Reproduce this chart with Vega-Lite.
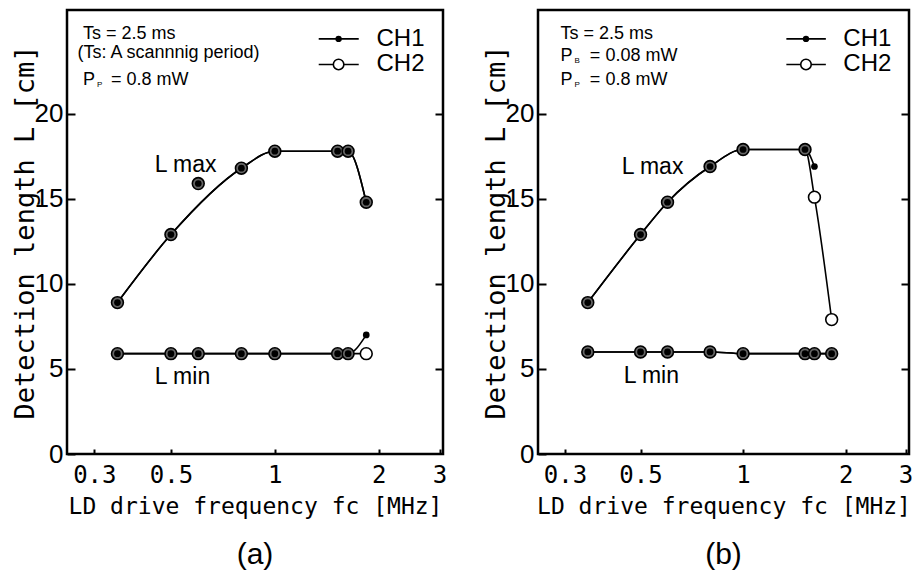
{
  "$schema": "https://vega.github.io/schema/vega-lite/v6.json",
  "padding": {"left": 9, "top": 8, "right": 0, "bottom": 0},
  "background": "white",
  "config": {
    "view": {"stroke": "black", "strokeWidth": 2.5},
    "axis": {"grid": false, "domain": false, "tickColor": "black", "labelColor": "black", "titleColor": "black", "tickWidth": 2, "zindex": 1}
  },
  "datasets": {
    "pts": [
      {"panel": "a", "grp": "max", "ch": "CH1", "f": 0.35, "L": 8.9, "fit": 1},
      {"panel": "a", "grp": "max", "ch": "CH1", "f": 0.5, "L": 12.9, "fit": 1},
      {"panel": "a", "grp": "max", "ch": "CH1", "f": 0.6, "L": 15.9, "fit": 0},
      {"panel": "a", "grp": "max", "ch": "CH1", "f": 0.8, "L": 16.8, "fit": 1},
      {"panel": "a", "grp": "max", "ch": "CH1", "f": 1.0, "L": 17.8, "fit": 1},
      {"panel": "a", "grp": "max", "ch": "CH1", "f": 1.52, "L": 17.8, "fit": 1},
      {"panel": "a", "grp": "max", "ch": "CH1", "f": 1.63, "L": 17.8, "fit": 1},
      {"panel": "a", "grp": "max", "ch": "CH1", "f": 1.84, "L": 14.8, "fit": 1},
      {"panel": "a", "grp": "max", "ch": "CH2", "f": 0.35, "L": 8.9, "fit": 1},
      {"panel": "a", "grp": "max", "ch": "CH2", "f": 0.5, "L": 12.9, "fit": 1},
      {"panel": "a", "grp": "max", "ch": "CH2", "f": 0.6, "L": 15.9, "fit": 0},
      {"panel": "a", "grp": "max", "ch": "CH2", "f": 0.8, "L": 16.8, "fit": 1},
      {"panel": "a", "grp": "max", "ch": "CH2", "f": 1.0, "L": 17.8, "fit": 1},
      {"panel": "a", "grp": "max", "ch": "CH2", "f": 1.52, "L": 17.8, "fit": 1},
      {"panel": "a", "grp": "max", "ch": "CH2", "f": 1.63, "L": 17.8, "fit": 1},
      {"panel": "a", "grp": "max", "ch": "CH2", "f": 1.84, "L": 14.8, "fit": 1},
      {"panel": "a", "grp": "min", "ch": "CH1", "f": 0.35, "L": 5.9, "fit": 1},
      {"panel": "a", "grp": "min", "ch": "CH1", "f": 0.5, "L": 5.9, "fit": 1},
      {"panel": "a", "grp": "min", "ch": "CH1", "f": 0.6, "L": 5.9, "fit": 1},
      {"panel": "a", "grp": "min", "ch": "CH1", "f": 0.8, "L": 5.9, "fit": 1},
      {"panel": "a", "grp": "min", "ch": "CH1", "f": 1.0, "L": 5.9, "fit": 1},
      {"panel": "a", "grp": "min", "ch": "CH1", "f": 1.52, "L": 5.9, "fit": 1},
      {"panel": "a", "grp": "min", "ch": "CH1", "f": 1.63, "L": 5.9, "fit": 1},
      {"panel": "a", "grp": "min", "ch": "CH1", "f": 1.84, "L": 7.0, "fit": 1},
      {"panel": "a", "grp": "min", "ch": "CH2", "f": 0.35, "L": 5.9, "fit": 1},
      {"panel": "a", "grp": "min", "ch": "CH2", "f": 0.5, "L": 5.9, "fit": 1},
      {"panel": "a", "grp": "min", "ch": "CH2", "f": 0.6, "L": 5.9, "fit": 1},
      {"panel": "a", "grp": "min", "ch": "CH2", "f": 0.8, "L": 5.9, "fit": 1},
      {"panel": "a", "grp": "min", "ch": "CH2", "f": 1.0, "L": 5.9, "fit": 1},
      {"panel": "a", "grp": "min", "ch": "CH2", "f": 1.52, "L": 5.9, "fit": 1},
      {"panel": "a", "grp": "min", "ch": "CH2", "f": 1.63, "L": 5.9, "fit": 1},
      {"panel": "a", "grp": "min", "ch": "CH2", "f": 1.84, "L": 5.9, "fit": 1},
      {"panel": "b", "grp": "max", "ch": "CH1", "f": 0.35, "L": 8.9, "fit": 1},
      {"panel": "b", "grp": "max", "ch": "CH1", "f": 0.5, "L": 12.9, "fit": 1},
      {"panel": "b", "grp": "max", "ch": "CH1", "f": 0.6, "L": 14.8, "fit": 1},
      {"panel": "b", "grp": "max", "ch": "CH1", "f": 0.8, "L": 16.9, "fit": 1},
      {"panel": "b", "grp": "max", "ch": "CH1", "f": 1.0, "L": 17.9, "fit": 1},
      {"panel": "b", "grp": "max", "ch": "CH1", "f": 1.52, "L": 17.9, "fit": 1},
      {"panel": "b", "grp": "max", "ch": "CH1", "f": 1.62, "L": 16.9, "fit": 1},
      {"panel": "b", "grp": "max", "ch": "CH2", "f": 0.35, "L": 8.9, "fit": 1},
      {"panel": "b", "grp": "max", "ch": "CH2", "f": 0.5, "L": 12.9, "fit": 1},
      {"panel": "b", "grp": "max", "ch": "CH2", "f": 0.6, "L": 14.8, "fit": 1},
      {"panel": "b", "grp": "max", "ch": "CH2", "f": 0.8, "L": 16.9, "fit": 1},
      {"panel": "b", "grp": "max", "ch": "CH2", "f": 1.0, "L": 17.9, "fit": 1},
      {"panel": "b", "grp": "max", "ch": "CH2", "f": 1.52, "L": 17.9, "fit": 1},
      {"panel": "b", "grp": "max", "ch": "CH2", "f": 1.62, "L": 15.1, "fit": 1},
      {"panel": "b", "grp": "max", "ch": "CH2", "f": 1.82, "L": 7.9, "fit": 1},
      {"panel": "b", "grp": "min", "ch": "CH1", "f": 0.35, "L": 6.0, "fit": 1},
      {"panel": "b", "grp": "min", "ch": "CH1", "f": 0.5, "L": 6.0, "fit": 1},
      {"panel": "b", "grp": "min", "ch": "CH1", "f": 0.6, "L": 6.0, "fit": 1},
      {"panel": "b", "grp": "min", "ch": "CH1", "f": 0.8, "L": 6.0, "fit": 1},
      {"panel": "b", "grp": "min", "ch": "CH1", "f": 1.0, "L": 5.9, "fit": 1},
      {"panel": "b", "grp": "min", "ch": "CH1", "f": 1.52, "L": 5.9, "fit": 1},
      {"panel": "b", "grp": "min", "ch": "CH1", "f": 1.62, "L": 5.9, "fit": 1},
      {"panel": "b", "grp": "min", "ch": "CH1", "f": 1.82, "L": 5.9, "fit": 1},
      {"panel": "b", "grp": "min", "ch": "CH2", "f": 0.35, "L": 6.0, "fit": 1},
      {"panel": "b", "grp": "min", "ch": "CH2", "f": 0.5, "L": 6.0, "fit": 1},
      {"panel": "b", "grp": "min", "ch": "CH2", "f": 0.6, "L": 6.0, "fit": 1},
      {"panel": "b", "grp": "min", "ch": "CH2", "f": 0.8, "L": 6.0, "fit": 1},
      {"panel": "b", "grp": "min", "ch": "CH2", "f": 1.0, "L": 5.9, "fit": 1},
      {"panel": "b", "grp": "min", "ch": "CH2", "f": 1.52, "L": 5.9, "fit": 1},
      {"panel": "b", "grp": "min", "ch": "CH2", "f": 1.62, "L": 5.9, "fit": 1},
      {"panel": "b", "grp": "min", "ch": "CH2", "f": 1.82, "L": 5.9, "fit": 1}
    ],
    "leg": [
      {"ch": "CH1", "f": 1.34, "f2": 1.75, "L": 24.4},
      {"ch": "CH2", "f": 1.34, "f2": 1.75, "L": 22.9}
    ],
    "legpt": [
      {"ch": "CH1", "f": 1.53, "L": 24.4},
      {"ch": "CH2", "f": 1.53, "L": 22.9}
    ],
    "notes": [
      {"panel": "a", "kind": "note", "f": 0.278, "L": 24.7, "t": "Ts = 2.5 ms"},
      {"panel": "a", "kind": "note", "f": 0.268, "L": 23.6, "t": "(Ts: A scannnig period)"},
      {"panel": "a", "kind": "note", "f": 0.278, "L": 22.0, "t": "P"},
      {"panel": "a", "kind": "note", "f": 0.335, "L": 22.0, "t": "= 0.8 mW"},
      {"panel": "a", "kind": "sub", "f": 0.278, "L": 22.0, "t": "P"},
      {"panel": "a", "kind": "label", "f": 0.449, "L": 17.0, "t": "L max"},
      {"panel": "a", "kind": "label", "f": 0.449, "L": 4.5, "t": "L min"},
      {"panel": "a", "kind": "legend", "f": 1.97, "L": 24.4, "t": "CH1"},
      {"panel": "a", "kind": "legend", "f": 1.97, "L": 22.9, "t": "CH2"},
      {"panel": "b", "kind": "note", "f": 0.291, "L": 24.7, "t": "Ts = 2.5 ms"},
      {"panel": "b", "kind": "note", "f": 0.291, "L": 23.4, "t": "P"},
      {"panel": "b", "kind": "note", "f": 0.355, "L": 23.4, "t": "= 0.08 mW"},
      {"panel": "b", "kind": "note", "f": 0.291, "L": 22.0, "t": "P"},
      {"panel": "b", "kind": "note", "f": 0.355, "L": 22.0, "t": "= 0.8 mW"},
      {"panel": "b", "kind": "sub", "f": 0.291, "L": 23.4, "t": "B"},
      {"panel": "b", "kind": "sub", "f": 0.291, "L": 22.0, "t": "P"},
      {"panel": "b", "kind": "label", "f": 0.44, "L": 16.9, "t": "L max"},
      {"panel": "b", "kind": "label", "f": 0.446, "L": 4.6, "t": "L min"},
      {"panel": "b", "kind": "legend", "f": 1.97, "L": 24.4, "t": "CH1"},
      {"panel": "b", "kind": "legend", "f": 1.97, "L": 22.9, "t": "CH2"}
    ]
  },
  "spacing": 31,
  "hconcat": [
    {
      "width": 376,
      "height": 444,
      "title": {"text": "(a)", "orient": "bottom", "fontSize": 30, "fontWeight": "normal", "font": "Liberation Sans", "color": "black", "offset": 22},
      "encoding": {
        "x": {"field": "f", "type": "quantitative", "scale": {"type": "log", "domain": [0.25, 3.07], "nice": false},
          "axis": {"values": [0.3, 0.5, 1, 2, 3], "labelExpr": "datum.value < 1 ? format(datum.value, '.1f') : format(datum.value, 'd')", "offset": -5, "tickSize": 5, "labelPadding": 9, "labelFont": "DejaVu Sans Mono", "labelFontSize": 24, "title": "LD drive frequency fc [MHz]", "titleFont": "DejaVu Sans Mono", "titleFontSize": 23, "titleFontWeight": "normal", "titlePadding": 8}},
        "y": {"field": "L", "type": "quantitative", "scale": {"domain": [0, 26.1], "nice": false, "zero": false}, "axis": null}
      },
      "resolve": {"axis": {"y": "independent"}},
      "layer": [
        {
          "data": {"name": "pts"},
          "transform": [{"filter": "datum.panel === 'a' && datum.fit === 1"}],
          "mark": {"type": "line", "interpolate": "monotone", "color": "black", "strokeWidth": 1.6},
          "encoding": {
            "detail": [{"field": "ch"}, {"field": "grp"}],
            "y": {"field": "L", "type": "quantitative", "scale": {"domain": [0, 26.1], "nice": false, "zero": false},
              "axis": {"orient": "left", "values": [0, 5, 10, 15, 20], "offset": -8, "tickSize": 8, "labelPadding": 4, "labelFont": "Liberation Sans", "labelFontSize": 26, "title": "Detection length  L [cm]", "titleFont": "DejaVu Sans Mono", "titleFontSize": 27, "titleFontWeight": "normal", "titlePadding": -5}}
          }
        },
        {
          "data": {"name": "pts"},
          "transform": [{"filter": "datum.panel === 'a'"}, {"joinaggregate": [{"op": "count", "as": "n"}], "groupby": ["grp", "f", "L"]}, {"filter": "datum.ch === 'CH2'"}],
          "mark": {"type": "point", "shape": "circle", "size": 140, "stroke": "black", "strokeWidth": 1.6, "filled": false, "opacity": 1},
          "encoding": {
            "fill": {"field": "n", "type": "ordinal", "scale": {"domain": [1, 2], "range": ["white", "#666666"]}, "legend": null},
            "y": {"field": "L", "type": "quantitative", "scale": {"domain": [0, 26.1], "nice": false, "zero": false},
              "axis": {"orient": "right", "values": [5, 10, 15, 20], "tickSize": -8, "labels": false, "title": null}}
          }
        },
        {
          "data": {"name": "pts"},
          "transform": [{"filter": "datum.panel === 'a' && datum.ch === 'CH1'"}],
          "mark": {"type": "point", "shape": "circle", "size": 45, "filled": true, "color": "black", "opacity": 1}
        },
        {
          "data": {"name": "leg"},
          "mark": {"type": "rule", "color": "black", "strokeWidth": 1.6},
          "encoding": {"x2": {"field": "f2"}}
        },
        {
          "data": {"name": "legpt"},
          "transform": [{"filter": "datum.ch === 'CH2'"}],
          "mark": {"type": "point", "shape": "circle", "size": 110, "stroke": "black", "strokeWidth": 1.6, "fill": "white", "filled": false, "opacity": 1}
        },
        {
          "data": {"name": "legpt"},
          "transform": [{"filter": "datum.ch === 'CH1'"}],
          "mark": {"type": "point", "shape": "circle", "size": 40, "filled": true, "color": "black", "opacity": 1}
        },
        {
          "data": {"name": "notes"},
          "transform": [{"filter": "datum.panel === 'a' && datum.kind === 'note'"}],
          "mark": {"type": "text", "align": "left", "baseline": "middle", "font": "Liberation Sans", "fontSize": 18, "color": "black"},
          "encoding": {"text": {"field": "t"}}
        },
        {
          "data": {"name": "notes"},
          "transform": [{"filter": "datum.panel === 'a' && datum.kind === 'sub'"}],
          "mark": {"type": "text", "align": "left", "baseline": "middle", "font": "Liberation Sans", "fontSize": 8, "dx": 14, "dy": 5, "color": "black"},
          "encoding": {"text": {"field": "t"}}
        },
        {
          "data": {"name": "notes"},
          "transform": [{"filter": "datum.panel === 'a' && datum.kind === 'label'"}],
          "mark": {"type": "text", "align": "left", "baseline": "middle", "font": "Liberation Sans", "fontSize": 23, "color": "black"},
          "encoding": {"text": {"field": "t"}}
        },
        {
          "data": {"name": "notes"},
          "transform": [{"filter": "datum.panel === 'a' && datum.kind === 'legend'"}],
          "mark": {"type": "text", "align": "left", "baseline": "middle", "font": "Liberation Sans", "fontSize": 24, "color": "black"},
          "encoding": {"text": {"field": "t"}}
        }
      ]
    },
    {
      "width": 371,
      "height": 444,
      "title": {"text": "(b)", "orient": "bottom", "fontSize": 30, "fontWeight": "normal", "font": "Liberation Sans", "color": "black", "offset": 22},
      "encoding": {
        "x": {"field": "f", "type": "quantitative", "scale": {"type": "log", "domain": [0.25, 3.07], "nice": false},
          "axis": {"values": [0.3, 0.5, 1, 2, 3], "labelExpr": "datum.value < 1 ? format(datum.value, '.1f') : format(datum.value, 'd')", "offset": -5, "tickSize": 5, "labelPadding": 9, "labelFont": "DejaVu Sans Mono", "labelFontSize": 24, "title": "LD drive frequency fc [MHz]", "titleFont": "DejaVu Sans Mono", "titleFontSize": 23, "titleFontWeight": "normal", "titlePadding": 8}},
        "y": {"field": "L", "type": "quantitative", "scale": {"domain": [0, 26.1], "nice": false, "zero": false}, "axis": null}
      },
      "resolve": {"axis": {"y": "independent"}},
      "layer": [
        {
          "data": {"name": "pts"},
          "transform": [{"filter": "datum.panel === 'b' && datum.fit === 1"}],
          "mark": {"type": "line", "interpolate": "monotone", "color": "black", "strokeWidth": 1.6},
          "encoding": {
            "detail": [{"field": "ch"}, {"field": "grp"}],
            "y": {"field": "L", "type": "quantitative", "scale": {"domain": [0, 26.1], "nice": false, "zero": false},
              "axis": {"orient": "left", "values": [0, 5, 10, 15, 20], "offset": -8, "tickSize": 8, "labelPadding": 4, "labelFont": "Liberation Sans", "labelFontSize": 26, "title": "Detection length  L [cm]", "titleFont": "DejaVu Sans Mono", "titleFontSize": 27, "titleFontWeight": "normal", "titlePadding": -5}}
          }
        },
        {
          "data": {"name": "pts"},
          "transform": [{"filter": "datum.panel === 'b'"}, {"joinaggregate": [{"op": "count", "as": "n"}], "groupby": ["grp", "f", "L"]}, {"filter": "datum.ch === 'CH2'"}],
          "mark": {"type": "point", "shape": "circle", "size": 140, "stroke": "black", "strokeWidth": 1.6, "filled": false, "opacity": 1},
          "encoding": {
            "fill": {"field": "n", "type": "ordinal", "scale": {"domain": [1, 2], "range": ["white", "#666666"]}, "legend": null},
            "y": {"field": "L", "type": "quantitative", "scale": {"domain": [0, 26.1], "nice": false, "zero": false},
              "axis": {"orient": "right", "values": [5, 10, 15, 20], "tickSize": -8, "labels": false, "title": null}}
          }
        },
        {
          "data": {"name": "pts"},
          "transform": [{"filter": "datum.panel === 'b' && datum.ch === 'CH1'"}],
          "mark": {"type": "point", "shape": "circle", "size": 45, "filled": true, "color": "black", "opacity": 1}
        },
        {
          "data": {"name": "leg"},
          "mark": {"type": "rule", "color": "black", "strokeWidth": 1.6},
          "encoding": {"x2": {"field": "f2"}}
        },
        {
          "data": {"name": "legpt"},
          "transform": [{"filter": "datum.ch === 'CH2'"}],
          "mark": {"type": "point", "shape": "circle", "size": 110, "stroke": "black", "strokeWidth": 1.6, "fill": "white", "filled": false, "opacity": 1}
        },
        {
          "data": {"name": "legpt"},
          "transform": [{"filter": "datum.ch === 'CH1'"}],
          "mark": {"type": "point", "shape": "circle", "size": 40, "filled": true, "color": "black", "opacity": 1}
        },
        {
          "data": {"name": "notes"},
          "transform": [{"filter": "datum.panel === 'b' && datum.kind === 'note'"}],
          "mark": {"type": "text", "align": "left", "baseline": "middle", "font": "Liberation Sans", "fontSize": 18, "color": "black"},
          "encoding": {"text": {"field": "t"}}
        },
        {
          "data": {"name": "notes"},
          "transform": [{"filter": "datum.panel === 'b' && datum.kind === 'sub'"}],
          "mark": {"type": "text", "align": "left", "baseline": "middle", "font": "Liberation Sans", "fontSize": 8, "dx": 14, "dy": 5, "color": "black"},
          "encoding": {"text": {"field": "t"}}
        },
        {
          "data": {"name": "notes"},
          "transform": [{"filter": "datum.panel === 'b' && datum.kind === 'label'"}],
          "mark": {"type": "text", "align": "left", "baseline": "middle", "font": "Liberation Sans", "fontSize": 23, "color": "black"},
          "encoding": {"text": {"field": "t"}}
        },
        {
          "data": {"name": "notes"},
          "transform": [{"filter": "datum.panel === 'b' && datum.kind === 'legend'"}],
          "mark": {"type": "text", "align": "left", "baseline": "middle", "font": "Liberation Sans", "fontSize": 24, "color": "black"},
          "encoding": {"text": {"field": "t"}}
        }
      ]
    }
  ]
}
